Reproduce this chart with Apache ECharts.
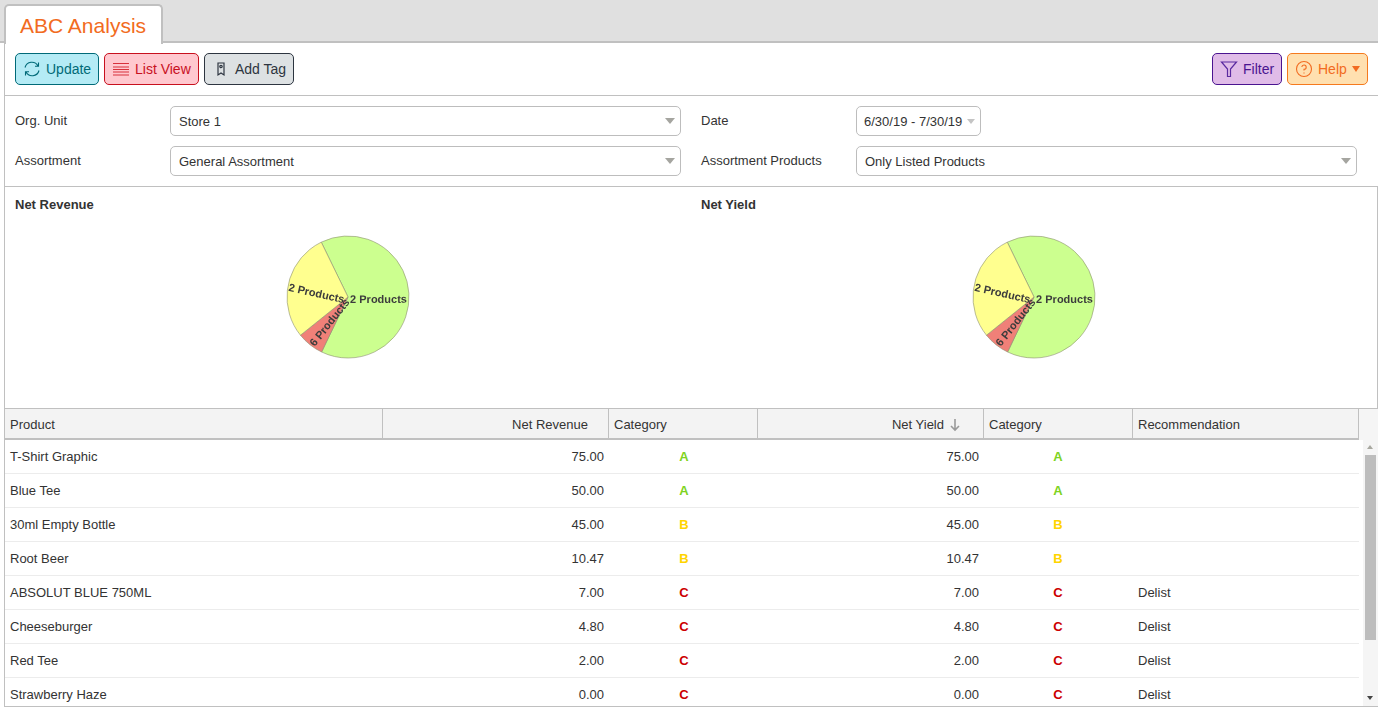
<!DOCTYPE html>
<html>
<head>
<meta charset="utf-8">
<title>ABC Analysis</title>
<script src="https://cdn.jsdelivr.net/npm/echarts@6/dist/echarts.min.js"></script>
<style>
html, body { margin: 0; padding: 0; background: #fff; overflow: hidden; }
body { width: 1385px; height: 708px; position: relative; font-family: "Liberation Sans", Arial, sans-serif; font-size: 13px; color: #333; }
.box { position: absolute; box-sizing: border-box; }
.txt { position: absolute; white-space: nowrap; line-height: 16px; }
.btn { position: absolute; box-sizing: border-box; top: 53px; height: 32px; border-radius: 5px; border: 1px solid; font-size: 14px; line-height: 30px; white-space: nowrap; }
.btn svg { position: absolute; left: 7px; top: 6px; }
.sel { position: absolute; box-sizing: border-box; height: 30px; background: #fff; border: 1px solid #bdbdbd; border-radius: 5px; line-height: 29px; padding-left: 8px; white-space: nowrap; }
.sel:after { content: ""; position: absolute; right: 5px; top: 11px; border: 5px solid transparent; border-top: 6px solid #a5a5a0; border-bottom: 0; }
.sel.small:after { right: 5px; top: 12px; border: 4px solid transparent; border-top: 5px solid #c4c4c4; border-bottom: 0; }
.hcell { position: absolute; top: 408px; height: 31px; line-height: 33px; white-space: nowrap; }
.rowtxt { position: absolute; white-space: nowrap; line-height: 16px; }
#tablebody { position: absolute; left: 5px; top: 440px; width: 1358px; height: 266px; overflow: hidden; }
</style>
</head>
<body>
<div class="box" style="left:0;top:0;width:1378px;height:42px;background:#e0e0e0"></div>
<div class="box" style="left:0;top:41px;width:1378px;height:2px;background:#c0c0c0"></div>
<div class="box" style="left:4px;top:43px;width:1px;height:664px;background:#c0c0c0"></div>
<div class="box" style="left:4px;top:4px;width:159px;height:40px;background:#fff;border:2px solid #c0c0c0;border-bottom:0;border-radius:5px 5px 0 0"></div>
<div class="txt" style="left:20px;top:13px;font-size:21px;line-height:26px;color:#f26b21">ABC Analysis</div>

<div class="btn" style="left:15px;width:84px;background:#b4ebf5;border-color:#006a78;color:#006a78;padding-left:30px">
  <svg width="18" height="18" viewBox="0 0 18 18" fill="none" stroke="#006a78" stroke-width="1.1"><path d="M2 7.5A7 7 0 0 1 15 6M16 10.5A7 7 0 0 1 3 12M15.5 2.5V6.2H12M2.5 15.5V11.8H6"/></svg>Update</div>
<div class="btn" style="left:104px;width:95px;background:#ffc8cf;border-color:#c8101e;color:#c8101e;padding-left:30px">
  <svg width="18" height="18" viewBox="0 0 18 18" fill="none" stroke="#d8303c" stroke-width="1"><path d="M1 3.5H17M1 7H17M1 9.5H17M1 12H17M1 15H17"/></svg>List View</div>
<div class="btn" style="left:204px;width:90px;background:#dde1e3;border-color:#2d3540;color:#2d3540;padding-left:30px">
  <svg width="18" height="18" viewBox="0 0 18 18" fill="none" stroke="#2d3540" stroke-width="1.2"><path d="M6 3H12V15L9 13L6 15Z"/><circle cx="9" cy="6.5" r="1.2"/></svg>Add Tag</div>
<div class="btn" style="left:1212px;width:70px;background:#e0bce8;border-color:#4a1490;color:#4a1490;padding-left:30px">
  <svg width="18" height="18" viewBox="0 0 18 18" fill="none" stroke="#5a2aa0" stroke-width="1.2"><path d="M1.5 2H16.5L10.5 9V16.5H7.5V9Z"/></svg>Filter</div>
<div class="btn" style="left:1287px;width:81px;background:#ffe0b0;border-color:#f57a1e;color:#f26b21;padding-left:30px">
  <svg width="18" height="18" viewBox="0 0 18 18" fill="none" stroke="#f26b21" stroke-width="1.1"><circle cx="9" cy="9" r="7.5"/><path d="M6.8 7A2.2 2.2 0 1 1 9 9.4V10.6M9 12.4V13.6"/></svg>Help
  <span style="position:absolute;left:64px;top:12px;border:4.5px solid transparent;border-top:6px solid #f26b21;border-bottom:0"></span></div>

<div class="box" style="left:5px;top:95px;width:1373px;height:1px;background:#c0c0c0"></div>

<div class="txt" style="left:15px;top:113px">Org. Unit</div>
<div class="sel" style="left:170px;top:106px;width:511px">Store 1</div>
<div class="txt" style="left:701px;top:113px">Date</div>
<div class="sel small" style="left:856px;top:106px;width:125px;padding-left:7px">6/30/19 - 7/30/19</div>
<div class="txt" style="left:15px;top:153px">Assortment</div>
<div class="sel" style="left:170px;top:146px;width:511px">General Assortment</div>
<div class="txt" style="left:701px;top:153px">Assortment Products</div>
<div class="sel" style="left:856px;top:146px;width:501px">Only Listed Products</div>

<div class="box" style="left:5px;top:186px;width:1373px;height:223px;border-top:1px solid #c0c0c0;border-right:1px solid #c0c0c0"></div>
<div class="txt" style="left:15px;top:197px;font-weight:bold">Net Revenue</div>
<div class="txt" style="left:701px;top:197px;font-weight:bold">Net Yield</div>
<div id="pieRevenue" class="box" style="left:200px;top:210px;width:300px;height:180px"></div>
<div id="pieYield" class="box" style="left:886px;top:210px;width:300px;height:180px"></div>

<div class="box" style="left:5px;top:408px;width:1354px;height:32px;background:#f3f3f3;border-top:1px solid #c0c0c0;border-bottom:2px solid #c0c0c0"></div>
<div class="box" style="left:1359px;top:408px;width:19px;height:32px;background:#f5f5f5;border-top:1px solid #c0c0c0"></div>
<div id="tablehead"></div>
<div id="tablebody"></div>

<div class="box" style="left:1363px;top:440px;width:15px;height:266px;background:#f5f5f5"></div>
<div class="box" style="left:1365px;top:455px;width:11px;height:185px;background:#bdbdbd"></div>
<div class="box" style="left:1367px;top:445px;border:3.5px solid transparent;border-bottom:4px solid #a8a8a0;border-top:0"></div>
<div class="box" style="left:1367px;top:696px;border:3.5px solid transparent;border-top:4px solid #444;border-bottom:0"></div>
<div class="box" style="left:5px;top:706px;width:1373px;height:1px;background:#c0c0c0"></div>

<script>
var products = ['T-Shirt Graphic','Blue Tee','30ml Empty Bottle','Root Beer','ABSOLUT BLUE 750ML','Cheeseburger','Red Tee','Strawberry Haze'];
var netRevenue = ['75.00','50.00','45.00','10.47','7.00','4.80','2.00','0.00'];
var revenueCategory = ['A','A','B','B','C','C','C','C'];
var netYield = ['75.00','50.00','45.00','10.47','7.00','4.80','2.00','0.00'];
var yieldCategory = ['A','A','B','B','C','C','C','C'];
var recommendation = ['','','','','Delist','Delist','Delist','Delist'];

// slices go clockwise: A, C, B
var sliceNames = ['2 Products','6 Products','2 Products'];
var revenueSlices = [125, 13.8, 55.47];
var yieldSlices = [125, 13.8, 55.47];
var sliceColors = ['#ccff8f','#f08078','#ffff8f'];
var labelNudge = [[-3, 3], [2, 2], [2, 4]];

var catColors = { A:'#7ed321', B:'#ffd400', C:'#cc0000' };

function addText(parent, cls, text, style) {
    var d = document.createElement('div');
    d.className = cls;
    d.textContent = text;
    d.style.cssText = style;
    parent.appendChild(d);
    return d;
}

var head = document.getElementById('tablehead');
addText(head, 'hcell', 'Product', 'left:10px');
addText(head, 'hcell', 'Net Revenue', 'right:797px');
addText(head, 'hcell', 'Category', 'left:614px');
addText(head, 'hcell', 'Net Yield', 'right:441px');
addText(head, 'hcell', 'Category', 'left:989px');
addText(head, 'hcell', 'Recommendation', 'left:1138px');
[382, 608, 757, 983, 1132, 1358].forEach(function (x) {
    addText(head, 'box', '', 'left:' + x + 'px;top:409px;width:1px;height:30px;background:#c0c0c0');
});
head.insertAdjacentHTML('beforeend', '<svg class="box" style="left:949px;top:418px" width="12" height="14" viewBox="0 0 12 14" fill="none" stroke="#9a9a9a" stroke-width="1.6"><path d="M6 1V12M2 8L6 12L10 8"/></svg>');

var body = document.getElementById('tablebody');
products.forEach(function (name, i) {
    var top = i * 34 + 9;
    addText(body, 'rowtxt', name, 'left:5px;top:' + top + 'px');
    addText(body, 'rowtxt', netRevenue[i], 'right:759px;top:' + top + 'px');
    addText(body, 'rowtxt', revenueCategory[i], 'left:664px;width:30px;text-align:center;font-weight:bold;top:' + top + 'px;color:' + catColors[revenueCategory[i]]);
    addText(body, 'rowtxt', netYield[i], 'right:384px;top:' + top + 'px');
    addText(body, 'rowtxt', yieldCategory[i], 'left:1038px;width:30px;text-align:center;font-weight:bold;top:' + top + 'px;color:' + catColors[yieldCategory[i]]);
    addText(body, 'rowtxt', recommendation[i], 'left:1133px;top:' + top + 'px');
    addText(body, 'box', '', 'left:0;width:1354px;height:1px;background:#ececec;top:' + (i * 34 + 33) + 'px');
});

function drawPie(id, values) {
    var chart = echarts.init(document.getElementById(id));
    var pieData = values.map(function (v, i) {
        return {
            name: sliceNames[i],
            value: v,
            itemStyle: { color: sliceColors[i] },
            label: { offset: labelNudge[i] }
        };
    });
    chart.setOption({
        animation: false,
        series: [{
            type: 'pie',
            center: [148, 87],
            radius: [0, 61],
            startAngle: 116,
            clockwise: true,
            minShowLabelAngle: 0,
            avoidLabelOverlap: false,
            labelLayout: { hideOverlap: false },
            silent: true,
            data: pieData,
            itemStyle: { borderColor: '#8c8f70', borderWidth: 0.6 },
            label: {
                show: true,
                position: 'inside',
                rotate: 'radial',
                formatter: '{b}',
                fontFamily: '"Liberation Sans", Arial, sans-serif',
                fontSize: 11,
                fontWeight: 'bold',
                color: '#3c3c3c'
            },
            labelLine: { show: false }
        }]
    });
}
drawPie('pieRevenue', revenueSlices);
drawPie('pieYield', yieldSlices);
</script>
</body>
</html>
